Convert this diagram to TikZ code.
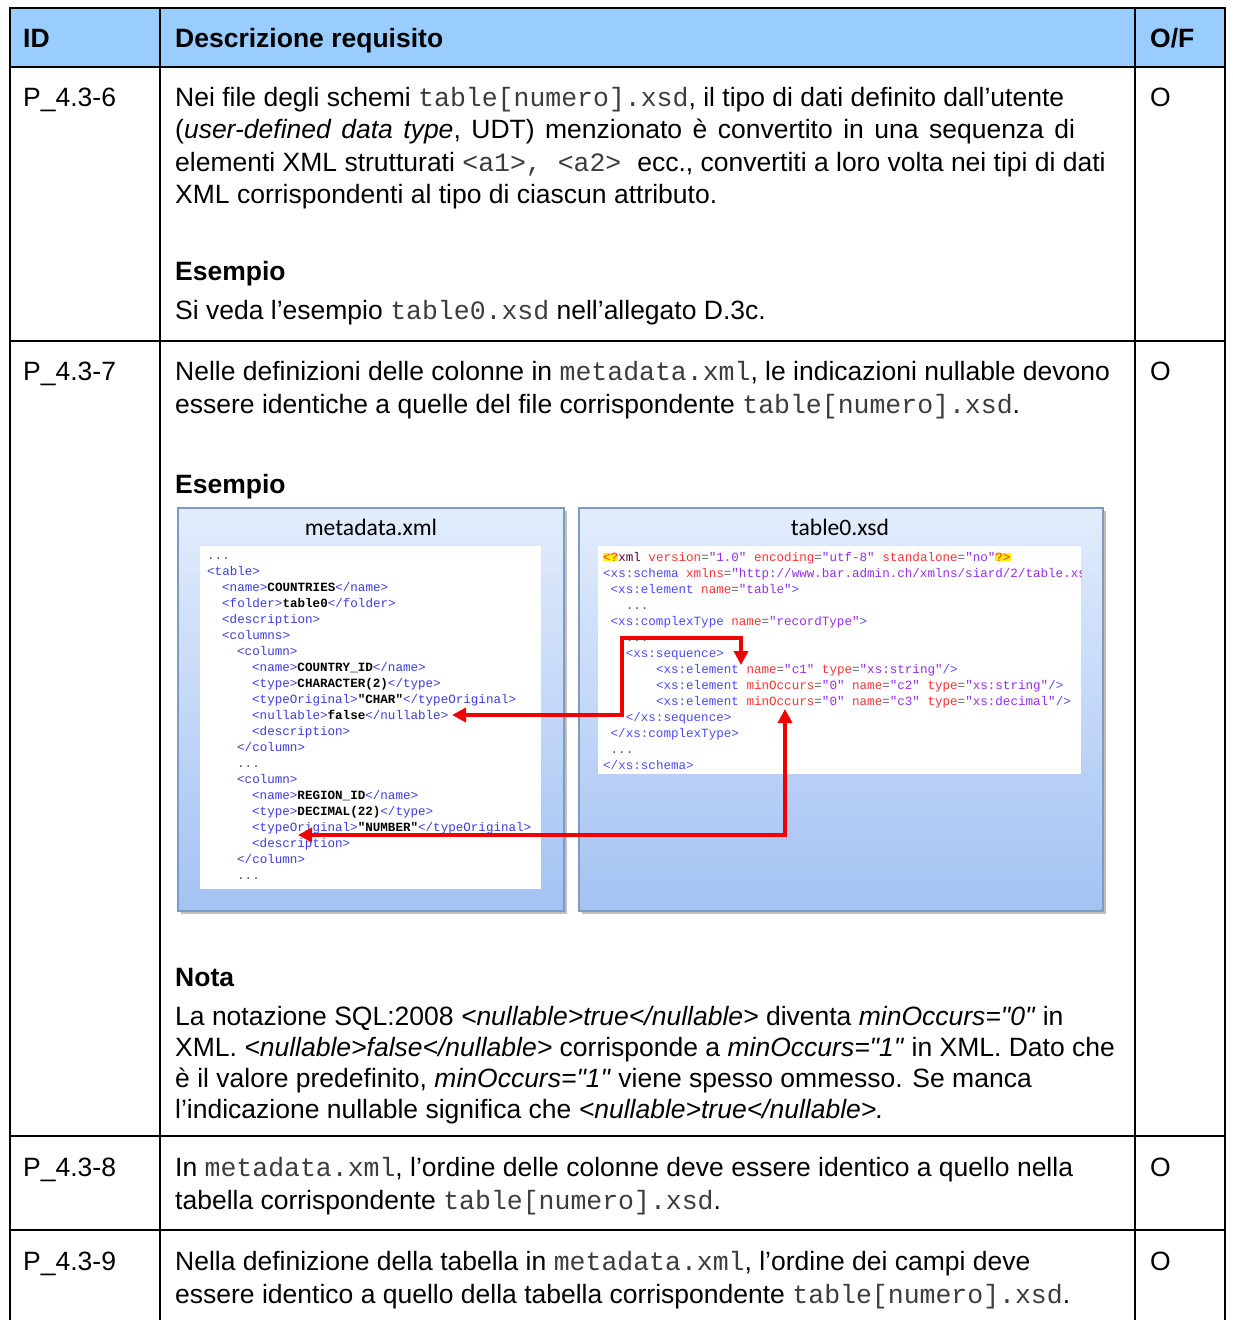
\documentclass[tikz,border=0pt]{standalone}
\usepackage{fontspec}
\setmainfont{Liberation Sans}
\setmonofont{Liberation Mono}
\newfontfamily\bodyf{Liberation Sans}
\newfontfamily\calib{Carlito}
\usetikzlibrary{arrows.meta}
\definecolor{hdr}{RGB}{153,204,255}
\definecolor{mtagc}{RGB}{60,60,225}
\definecolor{xtagc}{RGB}{75,75,250}
\definecolor{xattrc}{RGB}{255,50,50}
\definecolor{xvalc}{RGB}{150,45,235}
\definecolor{xeqc}{RGB}{100,100,100}
\definecolor{xdeclc}{RGB}{90,0,50}
\definecolor{dotc}{RGB}{80,80,80}
\definecolor{paneltop}{RGB}{226,236,252}
\definecolor{panelbot}{RGB}{164,194,243}
\definecolor{panelborder}{RGB}{125,155,195}
\definecolor{arrred}{RGB}{240,0,0}
\definecolor{monoc}{RGB}{60,60,60}
\newcommand\mt[1]{\textcolor{mtagc}{#1}}
\newcommand\xt[1]{\textcolor{xtagc}{#1}}
\newcommand\xa[1]{\textcolor{xattrc}{#1}}
\newcommand\xv[1]{\textcolor{xvalc}{#1}}
\newcommand\xe{\textcolor{xeqc}{=}}
\newcommand\hlx[1]{{\setlength{\fboxsep}{0pt}\colorbox{yellow}{#1}}}
\newcommand\dts{\textcolor{dotc}{...}}
\newcommand\tm[1]{\textcolor{monoc}{\texttt{#1}}}
\begin{document}
\begin{tikzpicture}[x=1pt,y=-1pt,
  txt/.style={anchor=base west, inner sep=0pt, font=\bodyf\fontsize{26.5}{32}\selectfont},
  hd/.style={anchor=base west, inner sep=0pt, font=\bodyf\fontsize{26.5}{32}\selectfont\bfseries},
  code/.style={anchor=base west, inner sep=0pt, font=\ttfamily\fontsize{12.57}{16}\selectfont},
  ptitle/.style={anchor=base, inner sep=0pt, font=\calib\fontsize{23.6}{28}\selectfont},
  gridline/.style={line width=1.8pt, line cap=rect},
  panel/.style={top color=paneltop, bottom color=panelbot, draw=panelborder, line width=1.2pt},
  codearea/.style={fill=white, draw=none},
  redarr/.style={draw=arrred, line width=4pt, {Triangle[length=14pt,width=14pt]}-{Triangle[length=14pt,width=14pt]}}
]
\useasboundingbox (0,0) rectangle (1232,1320);
\fill[white] (0,0) rectangle (1232,1320);
% header
\fill[hdr] (10,8) rectangle (1225,67);
\draw[gridline] (10,8) -- (1225,8);
\draw[gridline] (10,67) -- (1225,67);
\draw[gridline] (10,341) -- (1225,341);
\draw[gridline] (10,1136) -- (1225,1136);
\draw[gridline] (10,1230) -- (1225,1230);
\draw[gridline] (10,8) -- (10,1322);
\draw[gridline] (160,8) -- (160,1322);
\draw[gridline] (1135,8) -- (1135,1322);
\draw[gridline] (1225,8) -- (1225,1322);
\node[hd] (hid) at (23,47) {ID};
\node[hd] (hdesc) at (175,47) {Descrizione requisito};
\node[hd] (hof) at (1150,47) {O/F};
% row 1
\node[txt] (id1) at (23,106) {P\_4.3-6};
\node[txt] (o1) at (1150,106) {O};
\node[txt] (r1a) at (175,106) {Nei file degli schemi \tm{table[numero].xsd}, il tipo di dati definito dall’utente};
\node[txt] (r1b) at (175,138.5) {\spaceskip=10.5pt (\textit{user-defined data type}, UDT) menzionato è convertito in una sequenza di};
\node[txt] (r1c) at (175,171) {elementi XML strutturati \tm{<a1>, <a2> }ecc., convertiti a loro volta nei tipi di dati};
\node[txt] (r1d) at (175,203.5) {XML corrispondenti al tipo di ciascun attributo.};
\node[hd] (r1e) at (175,280) {Esempio};
\node[txt] (r1f) at (175,319) {Si veda l’esempio \tm{table0.xsd} nell’allegato D.3c.};
% row 2
\node[txt] (id2) at (23,380) {P\_4.3-7};
\node[txt] (o2) at (1150,380) {O};
\node[txt] (r2a) at (175,380) {Nelle definizioni delle colonne in \tm{metadata.xml}, le indicazioni nullable devono};
\node[txt] (r2b) at (175,413) {essere identiche a quelle del file corrispondente \tm{table[numero].xsd}.};
\node[hd] (r2c) at (175,493) {Esempio};
% panels
\fill[black!25] (181,511) rectangle (567,914);
\fill[black!25] (582,511) rectangle (1106,914);
\path[panel] (178,508) rectangle (564,911);
\path[panel] (579,508) rectangle (1103,911);
\node[ptitle] (mtitle) at (371,535) {metadata.xml};
\node[ptitle] (xtitle) at (840,535) {table0.xsd};
\path[codearea] (200,546) rectangle (541,889);
\path[codearea] (598,546) rectangle (1081,774);
% metadata code
\node[code] (m0) at (207,559) {\dts};
\node[code] (m1) at (207,575) {\mt{<table>}};
\node[code] (m2) at (222,591) {\mt{<name>}\textbf{COUNTRIES}\mt{</name>}};
\node[code] (m3) at (222,607) {\mt{<folder>}\textbf{table0}\mt{</folder>}};
\node[code] (m4) at (222,623) {\mt{<description>}};
\node[code] (m5) at (222,639) {\mt{<columns>}};
\node[code] (m6) at (237,655) {\mt{<column>}};
\node[code] (m7) at (252,671) {\mt{<name>}\textbf{COUNTRY\_ID}\mt{</name>}};
\node[code] (m8) at (252,687) {\mt{<type>}\textbf{CHARACTER(2)}\mt{</type>}};
\node[code] (m9) at (252,703) {\mt{<typeOriginal>}\textbf{"CHAR"}\mt{</typeOriginal>}};
\node[code] (m10) at (252,719) {\mt{<nullable>}\textbf{false}\mt{</nullable>}};
\node[code] (m11) at (252,735) {\mt{<description>}};
\node[code] (m12) at (237,751) {\mt{</column>}};
\node[code] (m13) at (237,767) {\dts};
\node[code] (m14) at (237,783) {\mt{<column>}};
\node[code] (m15) at (252,799) {\mt{<name>}\textbf{REGION\_ID}\mt{</name>}};
\node[code] (m16) at (252,815) {\mt{<type>}\textbf{DECIMAL(22)}\mt{</type>}};
\node[code] (m17) at (252,831) {\mt{<typeOriginal>}\textbf{"NUMBER"}\mt{</typeOriginal>}};
\node[code] (m18) at (252,847) {\mt{<description>}};
\node[code] (m19) at (237,863) {\mt{</column>}};
\node[code] (m20) at (237,879) {\dts};
% xsd code
\begin{scope}
\clip (598,546) rectangle (1081,774);
\node[code] (x0) at (603,561) {\hlx{\xa{<?}}\textcolor{xdeclc}{xml} \xa{version}\xe\xv{"1.0"} \xa{encoding}\xe\xv{"utf-8"} \xa{standalone}\xe\xv{"no"}\hlx{\xa{?>}}};
\node[code] (x1) at (603,577) {\xt{<xs:schema} \xa{xmlns}\xe\xv{"http://www.bar.admin.ch/xmlns/siard/2/table.xsd"}};
\node[code] (x2) at (610.5,593) {\xt{<xs:element} \xa{name}\xe\xv{"table"}\xt{>}};
\node[code] (x3) at (625.6,609) {\dts};
\node[code] (x4) at (610.5,625) {\xt{<xs:complexType} \xa{name}\xe\xv{"recordType"}\xt{>}};
\node[code] (x5) at (625.6,641) {\dts};
\node[code] (x6) at (625.6,657) {\xt{<xs:sequence>}};
\node[code] (x7) at (655.8,673) {\xt{<xs:element} \xa{name}\xe\xv{"c1"} \xa{type}\xe\xv{"xs:string"}\xt{/>}};
\node[code] (x8) at (655.8,689) {\xt{<xs:element} \xa{minOccurs}\xe\xv{"0"} \xa{name}\xe\xv{"c2"} \xa{type}\xe\xv{"xs:string"}\xt{/>}};
\node[code] (x9) at (655.8,705) {\xt{<xs:element} \xa{minOccurs}\xe\xv{"0"} \xa{name}\xe\xv{"c3"} \xa{type}\xe\xv{"xs:decimal"}\xt{/>}};
\node[code] (x10) at (625.6,721) {\xt{</xs:sequence>}};
\node[code] (x11) at (610.5,737) {\xt{</xs:complexType>}};
\node[code] (x12) at (610.5,753) {\dts};
\node[code] (x13) at (603,769) {\xt{</xs:schema>}};
\end{scope}
% red connectors
\coordinate (nullTip) at (452,715);
\coordinate (c1Tip) at (741,665);
\coordinate (origTip) at (298,835);
\coordinate (c3Tip) at (785,709);
\draw[redarr] (nullTip) -- (622,715) -- (622,638) -- (741,638) -- (c1Tip);
\draw[redarr] (origTip) -- (785,835) -- (c3Tip);
% Nota
\node[hd] (r2d) at (175,986) {Nota};
\node[txt] (r2e) at (175,1025) {La notazione SQL:2008 \textit{<nullable>true</nullable>} diventa \textit{minOccurs="0"} in};
\node[txt] (r2f) at (175,1056) {XML. \textit{<nullable>false</nullable>} corrisponde a \textit{minOccurs="1"} in XML. Dato che};
\node[txt] (r2g) at (175,1087) {è il valore predefinito, \textit{minOccurs="1"} viene spesso ommesso. Se manca};
\node[txt] (r2h) at (175,1118) {l’indicazione nullable significa che \textit{<nullable>true</nullable>.}};
% row 3
\node[txt] (id3) at (23,1176) {P\_4.3-8};
\node[txt] (o3) at (1150,1176) {O};
\node[txt] (r3a) at (175,1176) {In \tm{metadata.xml}, l’ordine delle colonne deve essere identico a quello nella};
\node[txt] (r3b) at (175,1209) {tabella corrispondente \tm{table[numero].xsd}.};
% row 4
\node[txt] (id4) at (23,1270) {P\_4.3-9};
\node[txt] (o4) at (1150,1270) {O};
\node[txt] (r4a) at (175,1270) {Nella definizione della tabella in \tm{metadata.xml}, l’ordine dei campi deve};
\node[txt] (r4b) at (175,1303) {essere identico a quello della tabella corrispondente \tm{table[numero].xsd}.};
\end{tikzpicture}
\end{document}
